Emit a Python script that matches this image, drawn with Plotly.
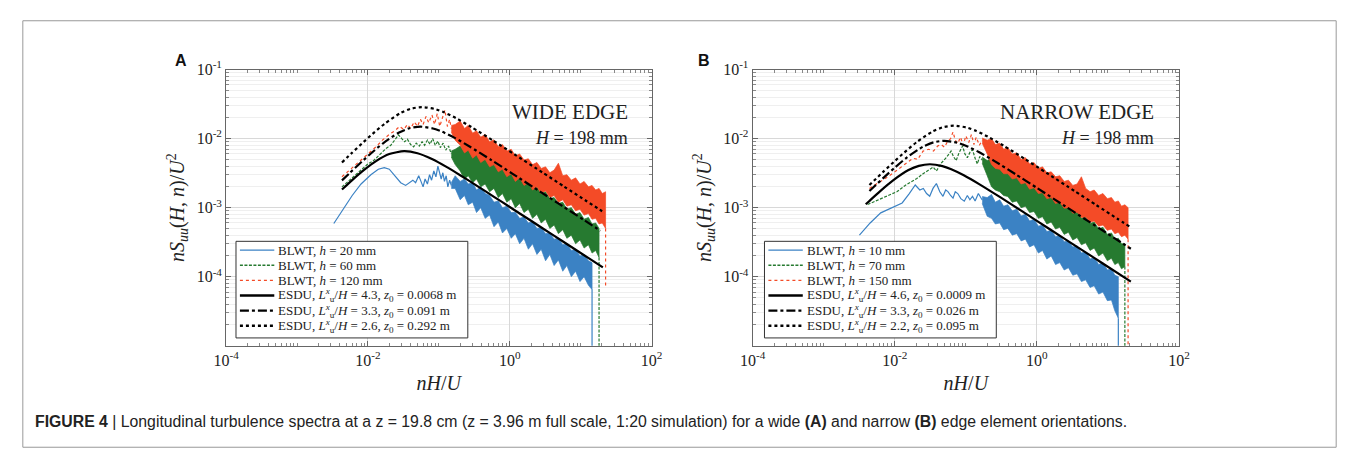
import plotly.graph_objects as go

W, H = 1357, 457

# ===================== DATA : panel A (wide edge) =====================
a_blue_lf_x = [0.0033, 0.0045, 0.006, 0.008, 0.011, 0.014, 0.017, 0.020, 0.024, 0.029, 0.034, 0.039,
               0.043, 0.047, 0.052, 0.056, 0.060, 0.064, 0.069, 0.074, 0.079, 0.085, 0.091, 0.097,
               0.103, 0.108, 0.114, 0.120, 0.127, 0.134, 0.142, 0.150]
a_blue_lf_y = [5.9e-4, 9.5e-4, 1.5e-3, 2.2e-3, 3.0e-3, 3.6e-3, 3.8e-3, 3.6e-3, 2.9e-3, 2.3e-3, 2.1e-3, 2.3e-3,
               2.5e-3, 2.3e-3, 2.9e-3, 2.4e-3, 2.0e-3, 2.6e-3, 2.2e-3, 3.0e-3, 2.5e-3, 3.4e-3, 2.8e-3, 4.0e-3,
               3.1e-3, 2.6e-3, 3.2e-3, 2.4e-3, 2.9e-3, 2.0e-3, 2.5e-3, 2.1e-3]

a_green_lf_x = [0.0043, 0.006, 0.008, 0.010, 0.012, 0.015, 0.018, 0.021, 0.024, 0.027, 0.030, 0.033,
                0.036, 0.040, 0.044, 0.048, 0.053, 0.058, 0.063, 0.069, 0.075, 0.082, 0.089, 0.097,
                0.105, 0.115, 0.125, 0.137, 0.150]
a_green_lf_y = [2.0e-3, 2.7e-3, 3.5e-3, 4.3e-3, 4.8e-3, 6.0e-3, 7.2e-3, 8.0e-3, 9.5e-3, 1.13e-2, 1.0e-2, 9.0e-3,
                9.8e-3, 8.2e-3, 7.6e-3, 8.6e-3, 7.8e-3, 9.0e-3, 8.0e-3, 9.5e-3, 8.3e-3, 1.0e-2, 8.0e-3, 9.2e-3,
                7.4e-3, 8.6e-3, 6.8e-3, 7.8e-3, 6.0e-3]

a_red_lf_x = [0.0043, 0.006, 0.008, 0.010, 0.013, 0.016, 0.020, 0.024, 0.028, 0.032, 0.036, 0.040,
              0.045, 0.050, 0.055, 0.060, 0.066, 0.072, 0.080, 0.087, 0.095, 0.103, 0.112, 0.122,
              0.132, 0.142, 0.150]
a_red_lf_y = [2.8e-3, 3.8e-3, 4.8e-3, 6.0e-3, 7.6e-3, 9.5e-3, 1.15e-2, 1.3e-2, 1.5e-2, 1.35e-2, 1.6e-2, 1.4e-2,
              1.75e-2, 1.5e-2, 1.9e-2, 1.6e-2, 2.1e-2, 1.7e-2, 2.2e-2, 1.6e-2, 2.3e-2, 1.5e-2, 2.0e-2, 2.6e-2,
              1.5e-2, 1.9e-2, 1.4e-2]

a_band_x = [0.15, 0.17, 0.2, 0.23, 0.26, 0.3, 0.34, 0.39, 0.45, 0.52, 0.6, 0.69, 0.79, 0.91, 1.05, 1.2,
            1.38, 1.59, 1.83, 2.1, 2.42, 2.78, 3.2, 3.68, 4.23, 4.86, 5.6, 6.4, 7.4, 8.5, 9.8, 11.2,
            12.9, 14.5, 16.3, 18.2, 20.2, 22.5]

a_blue_up = [2.3e-3, 2.9e-3, 2.4e-3, 2.6e-3, 2.2e-3, 2.3e-3, 1.8e-3, 2.0e-3, 1.6e-3, 1.5e-3, 1.2e-3, 1.25e-3,
             1.0e-3, 1.05e-3, 8.5e-4, 8.6e-4, 7.0e-4, 7.3e-4, 6.0e-4, 6.3e-4, 5.0e-4, 5.2e-4, 4.2e-4, 4.3e-4,
             3.5e-4, 3.6e-4, 2.9e-4, 3.0e-4, 2.4e-4, 2.5e-4, 2.0e-4, 2.1e-4, 1.7e-4, 1.6e-4]
a_blue_lo = [1.9e-3, 1.9e-3, 1.3e-3, 1.5e-3, 1.1e-3, 1.2e-3, 8.5e-4, 1.0e-3, 7.0e-4, 7.8e-4, 5.3e-4, 6.2e-4,
             4.3e-4, 5.0e-4, 3.6e-4, 4.2e-4, 3.0e-4, 3.6e-4, 2.5e-4, 3.0e-4, 2.1e-4, 2.5e-4, 1.7e-4, 2.1e-4,
             1.45e-4, 1.75e-4, 1.2e-4, 1.45e-4, 1.0e-4, 1.2e-4, 8.5e-5, 1.0e-4, 7.5e-5, 6.5e-5]

a_green_up = [6.6e-3, 7.0e-3, 7.8e-3, 6.5e-3, 7.2e-3, 6.0e-3, 6.5e-3, 5.2e-3, 5.6e-3, 4.6e-3, 4.9e-3, 3.8e-3,
              4.0e-3, 3.2e-3, 3.4e-3, 2.7e-3, 2.9e-3, 2.3e-3, 2.4e-3, 1.9e-3, 2.0e-3, 1.6e-3, 1.7e-3, 1.35e-3,
              1.4e-3, 1.15e-3, 1.2e-3, 9.5e-4, 1.0e-3, 8.0e-4, 8.5e-4, 6.8e-4, 7.2e-4, 5.8e-4, 6.0e-4, 5.0e-4]
a_green_lo = [5.4e-3, 4.2e-3, 3.4e-3, 2.6e-3, 2.9e-3, 2.3e-3, 2.6e-3, 2.0e-3, 2.2e-3, 1.7e-3, 1.9e-3, 1.4e-3,
              1.6e-3, 1.2e-3, 1.35e-3, 1.0e-3, 1.15e-3, 8.5e-4, 9.5e-4, 7.0e-4, 8.0e-4, 6.0e-4, 6.8e-4, 5.0e-4,
              5.6e-4, 4.2e-4, 4.8e-4, 3.6e-4, 4.0e-4, 3.0e-4, 3.4e-4, 2.6e-4, 2.9e-4, 2.2e-4, 2.4e-4, 1.9e-4]

a_red_up = [1.55e-2, 1.6e-2, 1.8e-2, 1.4e-2, 1.55e-2, 1.2e-2, 1.3e-2, 1.05e-2, 1.15e-2, 9.0e-3, 9.6e-3, 7.6e-3,
            8.2e-3, 6.6e-3, 7.0e-3, 5.6e-3, 6.0e-3, 4.9e-3, 5.1e-3, 4.2e-3, 4.5e-3, 3.7e-3, 3.9e-3, 3.2e-3,
            3.5e-3, 4.4e-3, 2.9e-3, 3.0e-3, 2.5e-3, 2.7e-3, 2.2e-3, 2.4e-3, 2.0e-3, 2.1e-3, 1.8e-3, 1.9e-3,
            1.6e-3, 1.7e-3]
a_red_lo = [1.25e-2, 9.5e-3, 8.0e-3, 6.2e-3, 6.8e-3, 5.2e-3, 5.8e-3, 4.5e-3, 5.0e-3, 3.9e-3, 4.2e-3, 3.3e-3,
            3.6e-3, 2.8e-3, 3.1e-3, 2.4e-3, 2.7e-3, 2.1e-3, 2.3e-3, 1.8e-3, 2.0e-3, 1.6e-3, 1.75e-3, 1.4e-3,
            1.5e-3, 1.2e-3, 1.3e-3, 1.05e-3, 1.1e-3, 9.0e-4, 9.5e-4, 7.8e-4, 8.2e-4, 6.8e-4, 7.0e-4, 5.8e-4,
            6.0e-4, 5.0e-4]

a_tail_end = [1e-7, 1e-7, 7e-5]   # where the cut-off drops of blue, green, red end

a_esdu1_x = [0.0043, 0.006, 0.009, 0.013, 0.02, 0.0324, 0.05, 0.08, 0.13, 0.2, 0.35, 0.6, 1.0, 2.0, 4.0, 8.0, 14.0, 20.6]
a_esdu1_y = [1.83e-3, 2.51e-3, 3.58e-3, 4.73e-3, 5.98e-3, 6.58e-3, 6.14e-3, 5.06e-3, 3.86e-3, 2.95e-3, 2.05e-3,
             1.435e-3, 1.023e-3, 6.45e-4, 4.06e-4, 2.56e-4, 1.765e-4, 1.364e-4]
a_esdu2_x = [0.0043, 0.0055, 0.00825, 0.011, 0.0165, 0.0275, 0.0385, 0.055, 0.0825, 0.11, 0.165, 0.275, 0.55,
             1.1, 2.75, 5.5, 11.0, 19.0]
a_esdu2_y = [2.48e-3, 3.16e-3, 4.67e-3, 6.09e-3, 8.63e-3, 1.226e-2, 1.414e-2, 1.49e-2, 1.402e-2, 1.264e-2,
             1.033e-2, 7.63e-3, 4.89e-3, 3.09e-3, 1.68e-3, 1.06e-3, 6.68e-4, 4.63e-4]
a_esdu3_x = [0.0043, 0.0058, 0.0087, 0.0116, 0.0174, 0.029, 0.0406, 0.058, 0.087, 0.116, 0.174, 0.29, 0.58,
             1.16, 2.9, 5.8, 11.6, 17.4, 22.0]
a_esdu3_y = [4.51e-3, 6.06e-3, 8.95e-3, 1.17e-2, 1.656e-2, 2.354e-2, 2.714e-2, 2.86e-2, 2.691e-2, 2.425e-2,
             1.982e-2, 1.464e-2, 9.38e-3, 5.94e-3, 3.23e-3, 2.03e-3, 1.28e-3, 9.78e-4, 8.35e-4]

a_names = ["BLWT, <i>h</i> = 20 mm", "BLWT, <i>h</i> = 60 mm", "BLWT, <i>h</i> = 120 mm",
           "ESDU, <i>L</i><sup><i>x</i></sup><sub>u</sub>/<i>H</i> = 4.3, <i>z</i><sub>0</sub> = 0.0068 m",
           "ESDU, <i>L</i><sup><i>x</i></sup><sub>u</sub>/<i>H</i> = 3.3, <i>z</i><sub>0</sub> = 0.091 m",
           "ESDU, <i>L</i><sup><i>x</i></sup><sub>u</sub>/<i>H</i> = 2.6, <i>z</i><sub>0</sub> = 0.292 m"]

# ===================== DATA : panel B (narrow edge) =====================
b_blue_lf_x = [0.00318, 0.0045, 0.00634, 0.009, 0.0127, 0.016, 0.0194, 0.0225, 0.0252, 0.028, 0.031, 0.0345,
               0.0385, 0.043, 0.0477, 0.052, 0.056, 0.061, 0.066, 0.071, 0.077, 0.085, 0.095, 0.105,
               0.114, 0.124, 0.135, 0.150, 0.170]
b_blue_lf_y = [4.0e-4, 6.0e-4, 8.4e-4, 1.0e-3, 1.17e-3, 1.6e-3, 2.13e-3, 1.8e-3, 1.9e-3, 1.6e-3, 1.46e-3, 1.9e-3,
               2.24e-3, 1.7e-3, 1.46e-3, 1.8e-3, 1.71e-3, 1.5e-3, 1.37e-3, 1.7e-3, 1.6e-3, 1.35e-3, 1.24e-3, 1.5e-3,
               1.3e-3, 1.46e-3, 1.25e-3, 1.6e-3, 1.3e-3]

b_green_lf_x = [0.00415, 0.006, 0.008, 0.0108, 0.014, 0.0175, 0.0204, 0.025, 0.030, 0.0347, 0.0385, 0.045,
                0.053, 0.062, 0.067, 0.073, 0.080, 0.090, 0.097, 0.105, 0.114, 0.124, 0.135, 0.145,
                0.157, 0.170]
b_green_lf_y = [1.11e-3, 1.3e-3, 1.5e-3, 1.71e-3, 2.1e-3, 2.4e-3, 2.64e-3, 3.1e-3, 3.5e-3, 3.87e-3, 3.4e-3, 4.4e-3,
                5.3e-3, 6.6e-3, 5.5e-3, 4.8e-3, 6.2e-3, 7.8e-3, 6.0e-3, 5.3e-3, 6.3e-3, 6.9e-3, 5.2e-3, 4.3e-3,
                5.5e-3, 5.0e-3]

b_red_lf_x = [0.0044, 0.006, 0.008, 0.010, 0.012, 0.015, 0.018, 0.021, 0.025, 0.030, 0.035, 0.040,
              0.045, 0.050, 0.055, 0.061, 0.066, 0.071, 0.077, 0.084, 0.092, 0.100, 0.110, 0.120,
              0.130, 0.140, 0.155, 0.170]
b_red_lf_y = [1.9e-3, 2.3e-3, 2.8e-3, 3.3e-3, 3.8e-3, 4.5e-3, 5.2e-3, 5.0e-3, 6.6e-3, 7.0e-3, 6.6e-3, 7.8e-3,
              8.2e-3, 7.5e-3, 9.0e-3, 1.0e-2, 1.25e-2, 9.5e-3, 8.5e-3, 1.05e-2, 8.0e-3, 1.1e-2, 8.8e-3, 1.15e-2,
              8.2e-3, 1.05e-2, 8.0e-3, 9.5e-3]

b_band_x = [0.17, 0.2, 0.23, 0.26, 0.3, 0.34, 0.39, 0.45, 0.52, 0.6, 0.69, 0.79, 0.91, 1.05, 1.2, 1.38,
            1.59, 1.83, 2.1, 2.42, 2.78, 3.2, 3.68, 4.23, 4.86, 5.6, 6.4, 7.4, 8.5, 9.8, 11.2, 12.5,
            14.0, 15.5, 17.3, 19.2]

b_blue_up = [1.45e-3, 1.4e-3, 1.55e-3, 1.2e-3, 1.3e-3, 1.05e-3, 1.1e-3, 9.0e-4, 9.5e-4, 7.6e-4, 8.0e-4, 6.4e-4,
             6.8e-4, 5.4e-4, 5.6e-4, 4.5e-4, 4.7e-4, 3.8e-4, 4.0e-4, 3.2e-4, 3.3e-4, 2.7e-4, 2.8e-4, 2.2e-4,
             2.3e-4, 1.8e-4, 1.9e-4, 1.5e-4, 1.6e-4, 1.25e-4, 1.3e-4, 1.05e-4, 1.0e-4]
b_blue_lo = [1.15e-3, 7.5e-4, 7.0e-4, 5.8e-4, 6.0e-4, 4.8e-4, 5.0e-4, 4.0e-4, 4.2e-4, 3.3e-4, 3.5e-4, 2.7e-4,
             2.9e-4, 2.2e-4, 2.4e-4, 1.8e-4, 2.0e-4, 1.5e-4, 1.6e-4, 1.25e-4, 1.35e-4, 1.05e-4, 1.1e-4, 8.5e-5,
             9.0e-5, 7.0e-5, 7.4e-5, 5.6e-5, 6.0e-5, 4.5e-5, 4.6e-5, 3.2e-5, 2.5e-5]

b_green_up = [5.4e-3, 4.8e-3, 5.2e-3, 4.2e-3, 4.4e-3, 3.6e-3, 3.8e-3, 3.0e-3, 3.1e-3, 2.5e-3, 2.6e-3, 2.1e-3,
              2.2e-3, 1.75e-3, 1.8e-3, 1.45e-3, 1.5e-3, 1.2e-3, 1.25e-3, 1.0e-3, 1.05e-3, 8.4e-4, 8.8e-4, 7.0e-4,
              7.4e-4, 5.9e-4, 6.2e-4, 4.9e-4, 5.2e-4, 4.1e-4, 4.3e-4, 3.5e-4, 3.6e-4, 3.0e-4, 3.0e-4]
b_green_lo = [4.4e-3, 2.9e-3, 2.0e-3, 1.8e-3, 1.7e-3, 1.5e-3, 1.45e-3, 1.2e-3, 1.25e-3, 1.0e-3, 1.05e-3, 8.5e-4,
              8.8e-4, 7.0e-4, 7.4e-4, 5.8e-4, 6.2e-4, 4.9e-4, 5.2e-4, 4.1e-4, 4.4e-4, 3.4e-4, 3.7e-4, 2.9e-4,
              3.1e-4, 2.4e-4, 2.6e-4, 2.0e-4, 2.2e-4, 1.7e-4, 1.85e-4, 1.5e-4, 1.6e-4, 1.3e-4, 1.4e-4]

b_red_up = [1.02e-2, 9.5e-3, 1.0e-2, 8.2e-3, 8.6e-3, 7.0e-3, 7.4e-3, 6.0e-3, 6.2e-3, 5.0e-3, 5.3e-3, 4.3e-3,
            4.5e-3, 3.7e-3, 3.9e-3, 3.2e-3, 3.3e-3, 2.8e-3, 2.9e-3, 2.4e-3, 2.5e-3, 2.1e-3, 2.2e-3, 2.8e-3,
            1.9e-3, 1.7e-3, 1.8e-3, 1.5e-3, 1.6e-3, 1.35e-3, 1.4e-3, 1.2e-3, 1.25e-3, 1.05e-3, 1.1e-3, 1.0e-3]
b_red_lo = [8.6e-3, 6.0e-3, 4.2e-3, 3.7e-3, 3.6e-3, 3.1e-3, 3.1e-3, 2.6e-3, 2.7e-3, 2.2e-3, 2.3e-3, 1.85e-3,
            1.95e-3, 1.6e-3, 1.65e-3, 1.35e-3, 1.4e-3, 1.15e-3, 1.2e-3, 9.8e-4, 1.0e-3, 8.3e-4, 8.6e-4, 7.2e-4,
            7.3e-4, 6.2e-4, 6.4e-4, 5.4e-4, 5.6e-4, 4.7e-4, 4.9e-4, 4.2e-4, 4.4e-4, 3.8e-4, 4.0e-4, 3.5e-4]

b_tail_end = [1e-7, 1e-7, 1e-7]

b_esdu1_x = [0.0039, 0.00468, 0.00624, 0.00936, 0.0156, 0.02184, 0.0312, 0.0468, 0.0624, 0.0936, 0.156, 0.312,
             0.624, 1.56, 3.12, 6.24, 9.36, 21.0]
b_esdu1_y = [1.118e-3, 1.331e-3, 1.738e-3, 2.461e-3, 3.498e-3, 4.033e-3, 4.25e-3, 4.0e-3, 3.604e-3, 2.945e-3,
             2.176e-3, 1.394e-3, 8.82e-4, 4.79e-4, 3.02e-4, 1.904e-4, 1.454e-4, 8.47e-5]
b_esdu2_x = [0.0044, 0.005, 0.0075, 0.01, 0.015, 0.025, 0.035, 0.05, 0.075, 0.1, 0.15, 0.25, 0.5, 1.0, 2.5,
             5.0, 10.0, 15.0, 21.0]
b_esdu2_y = [1.739e-3, 1.972e-3, 2.912e-3, 3.804e-3, 5.385e-3, 7.654e-3, 8.826e-3, 9.3e-3, 8.751e-3, 7.886e-3,
             6.445e-3, 4.762e-3, 3.05e-3, 1.931e-3, 1.049e-3, 6.61e-4, 4.17e-4, 3.18e-4, 2.54e-4]
b_esdu3_x = [0.0044, 0.0068, 0.0102, 0.0136, 0.0204, 0.034, 0.0476, 0.068, 0.102, 0.136, 0.204, 0.34, 0.68,
             1.36, 3.4, 6.8, 13.6, 20.7]
b_esdu3_y = [2.127e-3, 3.265e-3, 4.822e-3, 6.299e-3, 8.917e-3, 1.267e-2, 1.461e-2, 1.54e-2, 1.449e-2, 1.306e-2,
             1.067e-2, 7.885e-3, 5.051e-3, 3.197e-3, 1.737e-3, 1.095e-3, 6.9e-4, 5.24e-4]

b_names = ["BLWT, <i>h</i> = 10 mm", "BLWT, <i>h</i> = 70 mm", "BLWT, <i>h</i> = 150 mm",
           "ESDU, <i>L</i><sup><i>x</i></sup><sub>u</sub>/<i>H</i> = 4.6, <i>z</i><sub>0</sub> = 0.0009 m",
           "ESDU, <i>L</i><sup><i>x</i></sup><sub>u</sub>/<i>H</i> = 3.3, <i>z</i><sub>0</sub> = 0.026 m",
           "ESDU, <i>L</i><sup><i>x</i></sup><sub>u</sub>/<i>H</i> = 2.2, <i>z</i><sub>0</sub> = 0.095 m"]

x_tick_vals = [1e-4, 1e-2, 1, 1e2]
x_tick_text = ["10<sup>-4</sup>", "10<sup>-2</sup>", "10<sup>0</sup>", "10<sup>2</sup>"]
y_tick_vals = [1e-4, 1e-3, 1e-2, 1e-1]
y_tick_text = ["10<sup>-4</sup>", "10<sup>-3</sup>", "10<sup>-2</sup>", "10<sup>-1</sup>"]

# ===================== STYLE =====================
BLUE, GREEN, RED = "#3b82c4", "#267a30", "#f44b27"
SERIF = "Liberation Serif, Times New Roman, serif"
GREEN_DASH = "3px,1.5px"
STYLES = [(BLUE, "solid", 1.2), (GREEN, GREEN_DASH, 1.3), (RED, "dot", 1.4),
          ("black", "solid", 2.4), ("black", "dashdot", 2.4), ("black", "dot", 2.4)]

fig = go.Figure()


def add_blwt(lf_x, lf_y, bx, up, lo, tail, color, dash, xa, ya):
    n = len(up)
    xs = bx[:n]
    fig.add_trace(go.Scatter(x=xs + xs[::-1], y=up + lo[::-1], mode="lines", fill="toself",
                             fillcolor=color, line=dict(color=color, width=0.7),
                             showlegend=False, hoverinfo="skip", xaxis=xa, yaxis=ya))
    fig.add_trace(go.Scatter(x=lf_x + [xs[0]], y=lf_y + [(up[0] * lo[0]) ** 0.5], mode="lines",
                             line=dict(color=color, width=1.2, dash=dash), showlegend=False,
                             xaxis=xa, yaxis=ya))
    fig.add_trace(go.Scatter(x=[xs[-1], xs[-1]], y=[lo[-1], tail], mode="lines",
                             line=dict(color=color, width=1.2, dash=dash), showlegend=False,
                             hoverinfo="skip", xaxis=xa, yaxis=ya))


def add_esdu(x, y, dash, width, xa, ya):
    fig.add_trace(go.Scatter(x=x, y=y, mode="lines", line=dict(color="black", width=width, dash=dash,
                                                              shape="spline", smoothing=0.6),
                             showlegend=False, xaxis=xa, yaxis=ya))


# panel A
add_blwt(a_blue_lf_x, a_blue_lf_y, a_band_x, a_blue_up, a_blue_lo, a_tail_end[0], BLUE, "solid", "x", "y")
add_blwt(a_green_lf_x, a_green_lf_y, a_band_x, a_green_up, a_green_lo, a_tail_end[1], GREEN, GREEN_DASH, "x", "y")
add_blwt(a_red_lf_x, a_red_lf_y, a_band_x, a_red_up, a_red_lo, a_tail_end[2], RED, "dot", "x", "y")
add_esdu(a_esdu1_x, a_esdu1_y, "solid", 2.2, "x", "y")
add_esdu(a_esdu2_x, a_esdu2_y, "dashdot", 2.2, "x", "y")
add_esdu(a_esdu3_x, a_esdu3_y, "dot", 2.2, "x", "y")

# panel B
add_blwt(b_blue_lf_x, b_blue_lf_y, b_band_x, b_blue_up, b_blue_lo, b_tail_end[0], BLUE, "solid", "x2", "y2")
add_blwt(b_green_lf_x, b_green_lf_y, b_band_x, b_green_up, b_green_lo, b_tail_end[1], GREEN, GREEN_DASH, "x2", "y2")
add_blwt(b_red_lf_x, b_red_lf_y, b_band_x, b_red_up, b_red_lo, b_tail_end[2], RED, "dot", "x2", "y2")
add_esdu(b_esdu1_x, b_esdu1_y, "solid", 2.2, "x2", "y2")
add_esdu(b_esdu2_x, b_esdu2_y, "dashdot", 2.2, "x2", "y2")
add_esdu(b_esdu3_x, b_esdu3_y, "dot", 2.2, "x2", "y2")

minor_x = [m * 10.0 ** e for e in range(-4, 2) for m in range(1, 10) if not (m == 1 and e % 2 == 0)]
minor_y = [m * 10.0 ** e for e in range(-5, -1) for m in range(2, 10)]

y_dom = [1 - 343 / H, 1 - 60 / H]


def xaxis(dom, anchor):
    return dict(type="log", range=[-4, 2], domain=dom, anchor=anchor,
                tickmode="array", tickvals=x_tick_vals, ticktext=x_tick_text,
                tickfont=dict(family=SERIF, size=16, color="#222"),
                showline=True, linecolor="#666", linewidth=1, mirror="ticks",
                ticks="inside", ticklen=5, tickcolor="#666",
                showgrid=True, gridcolor="#d8d8d8", gridwidth=1, zeroline=False,
                minor=dict(tickmode="array", tickvals=minor_x, ticks="inside", ticklen=3,
                           tickcolor="#888", showgrid=False),
                title=dict(text="<i>nH</i>/<i>U</i>", font=dict(family=SERIF, size=20, color="#222"),
                           standoff=8))


def yaxis(anchor):
    return dict(type="log", range=[-5, -1], domain=y_dom, anchor=anchor,
                tickmode="array", tickvals=y_tick_vals, ticktext=y_tick_text,
                tickfont=dict(family=SERIF, size=16, color="#222"),
                showline=True, linecolor="#666", linewidth=1, mirror="ticks",
                ticks="inside", ticklen=5, tickcolor="#666",
                showgrid=True, gridcolor="#d8d8d8", gridwidth=1, zeroline=False,
                minor=dict(tickmode="array", tickvals=minor_y, ticks="inside", ticklen=3,
                           tickcolor="#888", showgrid=True, gridcolor="#efefef"),
                title=dict(text="<i>nS</i><sub><i>uu</i></sub>(<i>H</i>, <i>n</i>)/<i>U</i><sup>2</sup>",
                           font=dict(family=SERIF, size=20, color="#222"), standoff=6))


fig.update_layout(
    width=W, height=H, margin=dict(l=0, r=0, t=0, b=0),
    paper_bgcolor="white", plot_bgcolor="white",
    font=dict(family=SERIF, color="#222"),
    xaxis=xaxis([217 / W, 650 / W], "y"),
    yaxis=yaxis("x"),
    xaxis2=xaxis([753 / W, 1187 / W], "y2"),
    yaxis2=yaxis("x2"),
    showlegend=False,
)

ann = []
shapes = []


def px(v):
    return v / W


def py(v):
    return 1 - v / H


# legend boxes (drawn by hand to match the compact MATLAB legend)
for names, left in ((a_names, 227), (b_names, 765)):
    shapes.append(dict(type="rect", xref="paper", yref="paper", x0=px(left), x1=px(left + 236),
                       y0=py(335), y1=py(236), line=dict(color="#333", width=1), fillcolor="white",
                       layer="above"))
    for i, (nm, (col, dsh, wd)) in enumerate(zip(names, STYLES)):
        yy = 245 + 15.5 * i
        shapes.append(dict(type="line", xref="paper", yref="paper", x0=px(left + 4), x1=px(left + 39),
                           y0=py(yy), y1=py(yy), line=dict(color=col, width=wd, dash=dsh), layer="above"))
        ann.append(dict(text=nm, x=px(left + 41), y=py(yy), xref="paper", yref="paper", showarrow=False,
                        xanchor="left", yanchor="middle", font=dict(family=SERIF, size=13, color="#222")))

ann.append(dict(text="<b>A</b>", x=px(163), y=py(40), xref="paper", yref="paper", showarrow=False,
                font=dict(family="Liberation Sans, Arial, sans-serif", size=16, color="#111")))
ann.append(dict(text="<b>B</b>", x=px(703), y=py(40), xref="paper", yref="paper", showarrow=False,
                font=dict(family="Liberation Sans, Arial, sans-serif", size=16, color="#111")))
ann.append(dict(text="WIDE EDGE", x=px(628), y=py(89), xref="paper", yref="paper", showarrow=False,
                xanchor="right", font=dict(family=SERIF, size=21, color="#222")))
ann.append(dict(text="<i>H</i> = 198 mm", x=px(628), y=py(118), xref="paper", yref="paper", showarrow=False,
                xanchor="right", font=dict(family=SERIF, size=18, color="#222")))
ann.append(dict(text="NARROW EDGE", x=px(1164), y=py(89), xref="paper", yref="paper", showarrow=False,
                xanchor="right", font=dict(family=SERIF, size=21, color="#222")))
ann.append(dict(text="<i>H</i> = 198 mm", x=px(1164), y=py(118), xref="paper", yref="paper", showarrow=False,
                xanchor="right", font=dict(family=SERIF, size=18, color="#222")))
ann.append(dict(text="<b>FIGURE 4</b> | Longitudinal turbulence spectra at a z = 19.8 cm (z = 3.96 m full scale, "
                     "1:20 simulation) for a wide <b>(A)</b> and narrow <b>(B)</b> edge element orientations.",
                x=px(20), y=py(431), xref="paper", yref="paper", showarrow=False, xanchor="left",
                font=dict(family="Liberation Sans Narrow, Liberation Sans, Arial, sans-serif", size=15.8,
                          color="#222")))

shapes.append(dict(type="rect", xref="paper", yref="paper", x0=px(10), x1=px(1347), y0=py(447), y1=py(10),
                   line=dict(color="#999", width=1), fillcolor="rgba(0,0,0,0)", layer="below"))

fig.update_layout(annotations=ann, shapes=shapes)

fig.write_html("out.html", config={"displayModeBar": False, "staticPlot": True},
               post_script="document.body.style.margin='0px';")
